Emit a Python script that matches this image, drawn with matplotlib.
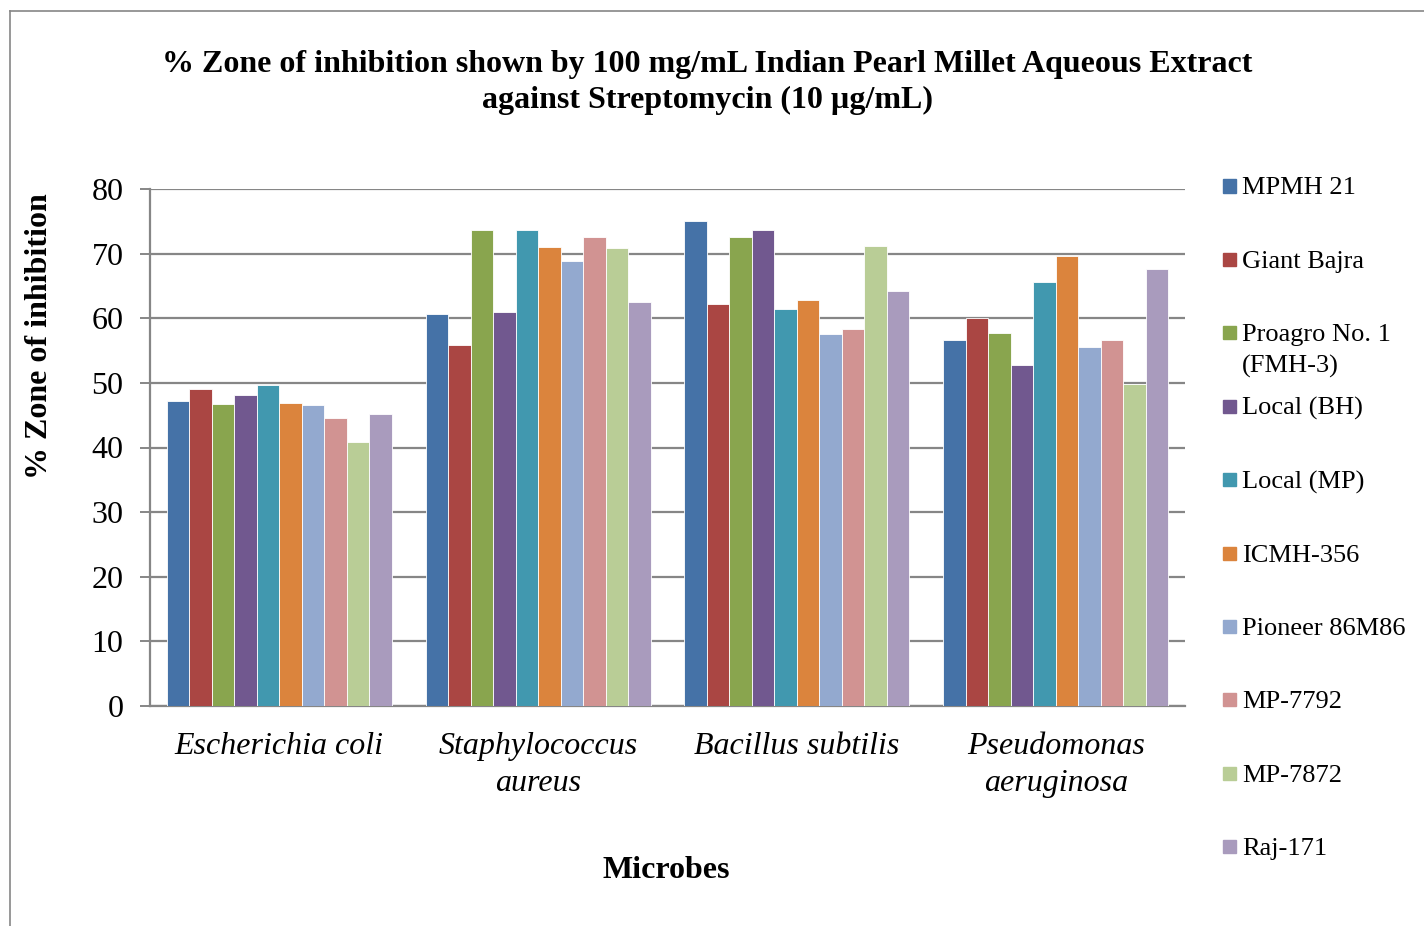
import numpy as np
import matplotlib
matplotlib.use('Agg')
import matplotlib.pyplot as plt
from matplotlib.lines import Line2D
from matplotlib.patches import Rectangle

plt.rcParams['font.family'] = ['Liberation Serif', 'DejaVu Serif']

# 数据
microbes = ['Escherichia coli', 'Staphylococcus\naureus', 'Bacillus subtilis', 'Pseudomonas\naeruginosa']
varieties = ['MPMH 21', 'Giant Bajra', 'Proagro No. 1\n(FMH-3)', 'Local (BH)', 'Local (MP)',
             'ICMH-356', 'Pioneer 86M86', 'MP-7792', 'MP-7872', 'Raj-171']
colors = ['#4572A7', '#AA4643', '#89A54E', '#71588F', '#4198AF',
          '#DB843D', '#93A9CF', '#D19392', '#B9CD96', '#A99BBD']

mpmh21 = [47.2, 60.7, 75.1, 56.7]
giant_bajra = [49.1, 55.8, 62.2, 60.1]
proagro = [46.7, 73.7, 72.5, 57.7]
local_bh = [48.1, 61.0, 73.6, 52.8]
local_mp = [49.7, 73.6, 61.4, 65.6]
icmh356 = [46.9, 71.0, 62.8, 69.6]
pioneer = [46.6, 68.9, 57.5, 55.6]
mp7792 = [44.5, 72.5, 58.3, 56.7]
mp7872 = [40.8, 70.8, 71.2, 49.9]
raj171 = [45.2, 62.5, 64.2, 67.6]
series = [mpmh21, giant_bajra, proagro, local_bh, local_mp,
          icmh356, pioneer, mp7792, mp7872, raj171]

W, H = 1424, 926
fig = plt.figure(figsize=(W / 100, H / 100), dpi=100)
ax = fig.add_axes([150 / W, 1 - 706 / H, (1185 - 150) / W, (706 - 189) / H])

x = np.arange(len(microbes))
n = len(series)
width = 0.87 / n
for i, vals in enumerate(series):
    offs = (i - (n - 1) / 2) * width
    ax.bar(x + offs, vals, width, color=colors[i], label=varieties[i],
           edgecolor='white', linewidth=0.6, zorder=3)

ax.set_xlim(-0.5, len(microbes) - 0.5)
ax.set_ylim(0, 80)
ax.set_yticks(np.arange(0, 81, 10))
ax.yaxis.grid(True, color='#868686', linewidth=1.6, zorder=0)
ax.set_axisbelow(True)
for s in ['top', 'right']:
    ax.spines[s].set_visible(False)
for s in ['left', 'bottom']:
    ax.spines[s].set_color('#868686')
    ax.spines[s].set_linewidth(1.6)
ax.tick_params(axis='y', length=7, width=1.4, color='#868686', pad=12, labelsize=23)

ax.set_xticks(x)
ax.set_xticklabels(microbes, fontsize=23, style='italic', linespacing=1.385)
ax.tick_params(axis='x', length=0, pad=18.5)

# 标题和轴标签
fig.text(707 / W, 1 - 82.5 / H,
         '% Zone of inhibition shown by 100 mg/mL Indian Pearl Millet Aqueous Extract\nagainst Streptomycin (10 µg/mL)',
         ha='center', va='center', fontsize=23, fontweight='bold', linespacing=1.345)
fig.text(40 / W, 1 - 336 / H, '% Zone of inhibition', rotation=90,
         ha='center', va='center', fontsize=23, fontweight='bold')
fig.text(666 / W, 1 - 870 / H, 'Microbes', ha='center', va='center',
         fontsize=23, fontweight='bold')

# 图例（手动排列，Excel 风格）
leg_top, leg_step, line_gap = 186, 73.4, 31
for i, name in enumerate(varieties):
    yc = leg_top + i * leg_step
    extra = (name.count('\n')) * line_gap  # baseline 对齐最后一行
    fig.add_artist(Rectangle((1223 / W, 1 - (yc + 6.5) / H), 13 / W, 13 / H,
                             transform=fig.transFigure, color=colors[i]))
    fig.text(1242 / W, 1 - (yc + 8.5 + extra) / H, name, ha='left', va='baseline',
             fontsize=19, linespacing=1.47)

# 外框
fig.add_artist(Line2D([10 / W, 10 / W], [0, 1 - 11 / H], transform=fig.transFigure,
                      color='#868686', linewidth=1.2))
fig.add_artist(Line2D([10 / W, 1], [1 - 11 / H, 1 - 11 / H], transform=fig.transFigure,
                      color='#868686', linewidth=1.2))

fig.savefig('out.png', dpi=100)
